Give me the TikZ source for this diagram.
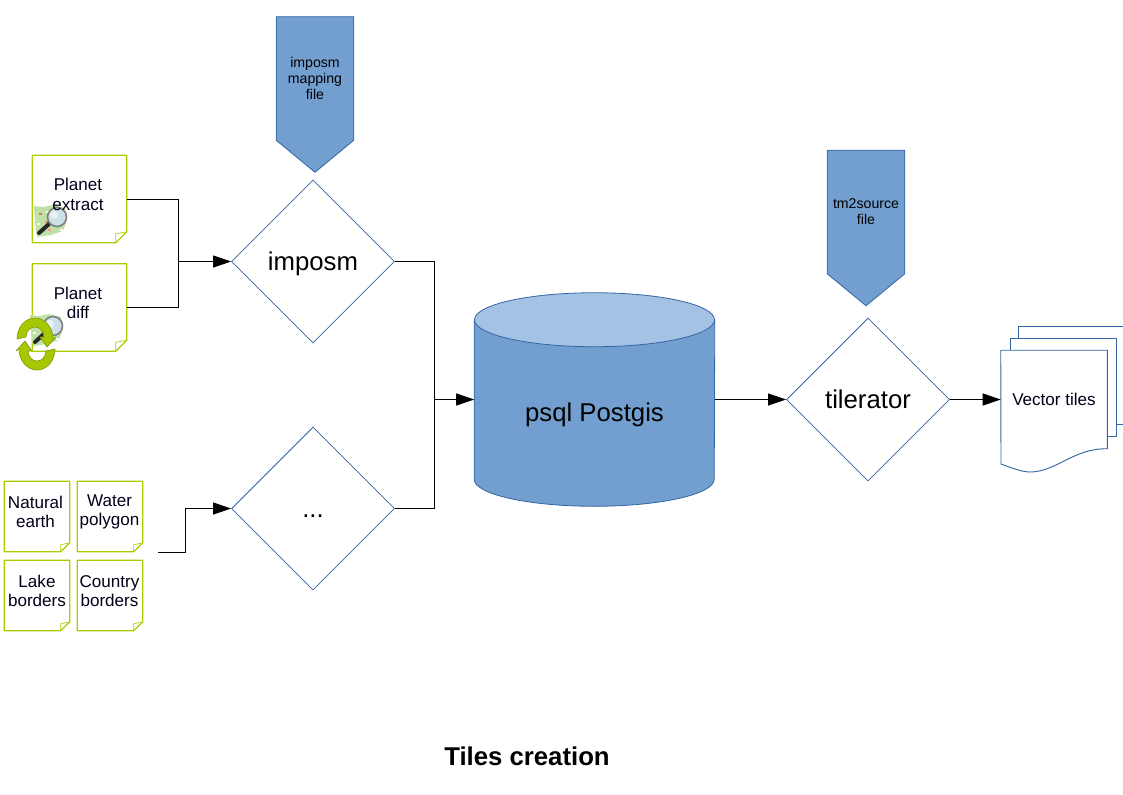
\documentclass[tikz,border=0pt]{standalone}
\usepackage{fontspec}
\setmainfont{Liberation Sans}
\usetikzlibrary{calc,arrows.meta,shapes.geometric}
\definecolor{flowblue}{RGB}{52,101,164}
\definecolor{bannerblue}{RGB}{114,159,207}
\definecolor{captop}{RGB}{164,194,227}
\definecolor{notelime}{RGB}{172,204,0}
\definecolor{recyclegreen}{RGB}{166,200,0}
\definecolor{recycledark}{RGB}{128,158,10}
\definecolor{mapgreen}{RGB}{190,226,165}
\definecolor{lensblue}{RGB}{205,224,232}
\tikzset{
  x=0.75pt, y=-0.75pt,
  process/.style={diamond, draw=flowblue, line width=0.6pt, aspect=1, inner sep=0pt,
                  minimum width=122.25pt, minimum height=122.25pt, text height=17pt, text depth=4pt,
                  font=\fontsize{19.3}{23}\selectfont},
  noteline/.style={draw=notelime, line width=0.9pt, line join=round},
  notetext/.style={align=center, inner sep=0pt, font=\fontsize{12.8}{14.6}\selectfont, text=black!90!blue},
  bannerbox/.style={rectangle, inner sep=0pt, minimum width=57.75pt, minimum height=92.25pt},
  bannerfill/.style={fill=bannerblue, draw=flowblue, line width=0.6pt, line join=round},
  bannertext/.style={align=center, inner sep=0pt, font=\fontsize{10.6}{12}\selectfont},
  flow/.style={black, line width=0.75pt},
  flowarrow/.style={flow, -{Triangle[length=13.5pt,width=9pt]}},
  pageline/.style={draw=flowblue, line width=0.7pt, line join=round},
  mapglass/.pic={
    % map patch, spots and magnifier
    \fill[mapgreen] (-23,-11) -- (-14,-10) -- (-4,-12) -- (8,-9) -- (9,6) -- (6,14) -- (-6,18) -- (-20,20) -- (-22,6) -- cycle;
    \foreach \a/\b/\c in {-18/-4/red!60,-12/4/red!50,-6/-5/red!55,-15/12/white,-9/12/red!45,-2/8/white,3/12/white,-20/6/white,-11/-6/white} {
      \fill[\c] (\a,\b) rectangle ++(2.5,1.5);
    }
    \draw[black!85, line width=3pt, line cap=round] (-8,7) -- (-18,16);
    \draw[black!50, fill=lensblue, line width=1.2pt] (0,0) circle[radius=9.5];
    \fill[white, opacity=0.6] (-3,-2) circle[radius=4];
  },
  recycle/.pic={
    \foreach \r in {0,180} {
      \filldraw[rotate=\r, fill=recyclegreen, draw=recycledark, line width=0.5pt, line join=round]
        (-19,-5) arc[start angle=180, end angle=360, x radius=18, y radius=21]
        -- (20,-7) -- (11,3) -- (4,-7) -- (8,-7)
        arc[start angle=0, end angle=-180, x radius=9, y radius=10] -- cycle;
    }
  },
}
\begin{document}
\begin{tikzpicture}
  \useasboundingbox (0,0) rectangle (1123,794);

  % ---- source files -------------------------------------------------------
  \foreach \n/\x/\y/\w/\h/\f in {extract/79.5/199/94/87/11, diff/79.5/307.5/94/87/11,
                                 natural/37/516.5/65/70/9, water/110/516.5/65/70/9,
                                 lake/37/595.5/65/70/9, country/110/595.5/65/70/9} {
    \node[rectangle, inner sep=0pt, minimum width=\w*0.75pt, minimum height=\h*0.75pt] (\n) at (\x,\y) {};
    \draw[noteline] (\n.north west) -- (\n.north east) -- ($(\n.south east)+(0,-\f)$)
      -- ($(\n.south east)+(-\f,0)$) -- (\n.south west) -- cycle;
    \draw[noteline, line width=0.5pt] ($(\n.south east)+(0,-\f)$) -- ($(\n.south east)+(-\f,-\f+2)$) -- ($(\n.south east)+(-\f,0)$);
  }

  % ---- icons --------------------------------------------------------------
  \pic at (57,217) {mapglass};
  \pic at (53,326) {mapglass};
  \pic at (36,344) {recycle};

  \foreach \n/\d/\t in {extract/-1.5/Planet\\ extract, diff/-1.5/Planet\\ diff, natural/-1.5/Natural\\ earth,
                        water/-0.5/Water\\ polygon, lake/0/Lake\\ borders, country/-0.5/Country\\ borders} {
    \node[notetext] (\n text) at ($(\n)+(\d,-4.5)$) {\t};
  }

  % ---- mapping files ------------------------------------------------------
  \foreach \n/\x/\y/\t in {mapping/315/78.5/imposm\\ mapping\\ file, source/866/212/tm2source\\ file} {
    \node[bannerbox] (\n) at (\x,\y) {};
    \filldraw[bannerfill] (\n.north west) -- (\n.north east) -- (\n.south east)
      -- ($(\n.south)+(0,32)$) -- (\n.south west) -- cycle;
    \node[bannertext] (\n text) at (\n) {\t};
  }

  % ---- processes and database ---------------------------------------------
  \node[process] (imposm) at (313,261.5) {imposm};
  \node[process] (dots) at (313,508.5) {...};
  \node[process] (tilerator) at (868,399.5) {tilerator};
  \node[rectangle, inner sep=0pt, minimum width=180pt, minimum height=159.75pt] (psql) at (594.5,399.5) {};
  \filldraw[fill=bannerblue, draw=flowblue, line width=0.6pt]
    ($(psql.north west)+(0,27)$) -- ($(psql.south west)+(0,-27)$)
    arc[start angle=180, end angle=0, x radius=120, y radius=27]
    -- ($(psql.north east)+(0,27)$) -- cycle;
  \filldraw[fill=captop, draw=flowblue, line width=0.6pt]
    ($(psql.north)+(0,27)$) ellipse[x radius=120, y radius=27];
  \node[font=\fontsize{19.3}{23}\selectfont] (psql text) at (594.5,415) {psql Postgis};

  % ---- vector tiles -------------------------------------------------------
  \node[rectangle, inner sep=0pt, minimum width=79.5pt, minimum height=73.5pt] (tiles) at (1054,399.5) {};
  \draw[pageline] (1018.5,338) -- (1018.5,326) -- (1123,326);
  \draw[pageline] (1116,424) -- (1123,424);
  \draw[pageline] (1010,350) -- (1010,338) -- (1116,338) -- (1116,436) -- (1107,436);
  \draw[pageline] (tiles.south east) -- (tiles.north east) -- (tiles.north west) -- (1001,464)
    .. controls (1012,468) and (1022,472) .. (1030,472)
    .. controls (1056,472) and (1074,448) .. (tiles.south east);
  \node[font=\fontsize{12.8}{15}\selectfont, text=black!90!blue] (tiles text) at (tiles) {Vector tiles};

  % ---- connectors ---------------------------------------------------------
  \coordinate (joinA) at (178.5,261.5);
  \coordinate (joinB) at (434.5,399.5);
  \coordinate (startC) at (158,552.5);
  \draw[flow] ($(extract.east)+(0,0.5)$) -| (joinA);
  \draw[flow] (diff.east) -| (joinA);
  \draw[flowarrow] (joinA) -- (imposm.west);
  \draw[flowarrow] (startC) -- ++(27.5,0) |- (dots.west);
  \draw[flow] (imposm.east) -| (joinB);
  \draw[flow] (dots.east) -| (joinB);
  \draw[flowarrow] (joinB) -- (psql.west);
  \draw[flowarrow] (psql.east) -- (tilerator.west);
  \draw[flowarrow] (tilerator.east) -- (tiles.west);

  \node[font=\fontsize{19.3}{23}\selectfont\bfseries] (title) at (527,756) {Tiles creation};
\end{tikzpicture}
\end{document}
